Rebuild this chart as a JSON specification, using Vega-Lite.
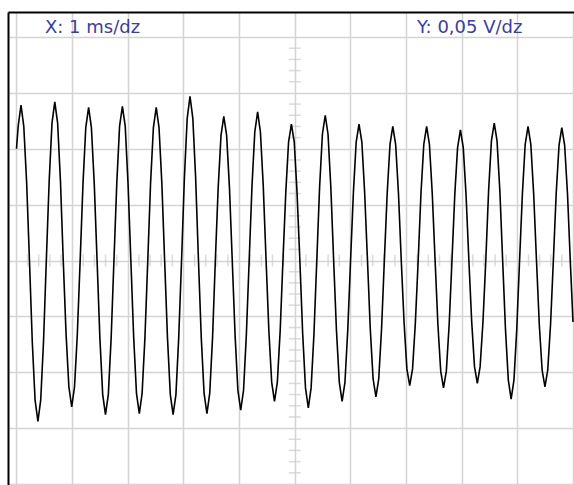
{
  "$schema": "https://vega.github.io/schema/vega-lite/v6.json",
  "autosize": {"type": "fit", "contains": "padding"},
  "width": 574,
  "height": 485,
  "padding": {"left": 8, "top": 12, "right": 0, "bottom": 0},
  "background": "#ffffff",
  "config": {"view": {"stroke": null}},
  "datasets": {
    "trace": [
      {"t":0,"v":0.100},{"t":0.030,"v":0.120},
      {"t":0.081,"v":0.139},{"t":0.131,"v":0.120},{"t":0.182,"v":0.070},{"t":0.233,"v":0},{"t":0.283,"v":-0.072},{"t":0.334,"v":-0.125},{"t":0.385,"v":-0.144},{"t":0.435,"v":-0.125},{"t":0.486,"v":-0.072},{"t":0.536,"v":0},{"t":0.587,"v":0.071},{"t":0.638,"v":0.123},
      {"t":0.688,"v":0.142},{"t":0.739,"v":0.123},{"t":0.790,"v":0.071},{"t":0.840,"v":0},{"t":0.891,"v":-0.066},{"t":0.941,"v":-0.113},{"t":0.992,"v":-0.131},{"t":1.043,"v":-0.113},{"t":1.093,"v":-0.066},{"t":1.144,"v":0},{"t":1.195,"v":0.069},{"t":1.245,"v":0.119},
      {"t":1.296,"v":0.137},{"t":1.346,"v":0.119},{"t":1.397,"v":0.069},{"t":1.448,"v":0},{"t":1.498,"v":-0.069},{"t":1.549,"v":-0.120},{"t":1.599,"v":-0.138},{"t":1.650,"v":-0.120},{"t":1.701,"v":-0.069},{"t":1.751,"v":0},{"t":1.802,"v":0.069},{"t":1.852,"v":0.120},
      {"t":1.903,"v":0.138},{"t":1.954,"v":0.120},{"t":2.004,"v":0.069},{"t":2.055,"v":0},{"t":2.106,"v":-0.069},{"t":2.156,"v":-0.119},{"t":2.207,"v":-0.137},{"t":2.257,"v":-0.119},{"t":2.308,"v":-0.069},{"t":2.359,"v":0},{"t":2.409,"v":0.069},{"t":2.460,"v":0.119},
      {"t":2.511,"v":0.137},{"t":2.561,"v":0.119},{"t":2.612,"v":0.069},{"t":2.662,"v":0},{"t":2.713,"v":-0.069},{"t":2.764,"v":-0.120},{"t":2.814,"v":-0.138},{"t":2.865,"v":-0.120},{"t":2.915,"v":-0.069},{"t":2.966,"v":0},{"t":3.017,"v":0.074},{"t":3.067,"v":0.127},
      {"t":3.118,"v":0.147},{"t":3.169,"v":0.127},{"t":3.219,"v":0.074},{"t":3.270,"v":0},{"t":3.320,"v":-0.069},{"t":3.371,"v":-0.119},{"t":3.422,"v":-0.137},{"t":3.472,"v":-0.119},{"t":3.523,"v":-0.069},{"t":3.573,"v":0},{"t":3.624,"v":0.065},{"t":3.675,"v":0.112},
      {"t":3.725,"v":0.129},{"t":3.776,"v":0.112},{"t":3.827,"v":0.065},{"t":3.877,"v":0},{"t":3.928,"v":-0.067},{"t":3.978,"v":-0.116},{"t":4.029,"v":-0.134},{"t":4.080,"v":-0.116},{"t":4.130,"v":-0.067},{"t":4.181,"v":0},{"t":4.232,"v":0.067},{"t":4.282,"v":0.115},
      {"t":4.333,"v":0.133},{"t":4.383,"v":0.115},{"t":4.434,"v":0.067},{"t":4.485,"v":0},{"t":4.535,"v":-0.063},{"t":4.586,"v":-0.109},{"t":4.636,"v":-0.126},{"t":4.687,"v":-0.109},{"t":4.738,"v":-0.063},{"t":4.788,"v":0},{"t":4.839,"v":0.061},{"t":4.889,"v":0.106},
      {"t":4.940,"v":0.122},{"t":4.991,"v":0.106},{"t":5.041,"v":0.061},{"t":5.092,"v":0},{"t":5.143,"v":-0.066},{"t":5.193,"v":-0.114},{"t":5.244,"v":-0.132},{"t":5.294,"v":-0.114},{"t":5.345,"v":-0.066},{"t":5.396,"v":0},{"t":5.446,"v":0.065},{"t":5.497,"v":0.113},
      {"t":5.548,"v":0.130},{"t":5.598,"v":0.113},{"t":5.649,"v":0.065},{"t":5.699,"v":0},{"t":5.750,"v":-0.063},{"t":5.801,"v":-0.109},{"t":5.851,"v":-0.126},{"t":5.902,"v":-0.109},{"t":5.952,"v":-0.063},{"t":6.003,"v":0},{"t":6.054,"v":0.061},{"t":6.104,"v":0.106},
      {"t":6.155,"v":0.122},{"t":6.206,"v":0.106},{"t":6.256,"v":0.061},{"t":6.307,"v":0},{"t":6.357,"v":-0.061},{"t":6.408,"v":-0.106},{"t":6.459,"v":-0.122},{"t":6.509,"v":-0.106},{"t":6.560,"v":-0.061},{"t":6.610,"v":0},{"t":6.661,"v":0.060},{"t":6.712,"v":0.104},
      {"t":6.762,"v":0.120},{"t":6.813,"v":0.104},{"t":6.864,"v":0.060},{"t":6.914,"v":0},{"t":6.965,"v":-0.056},{"t":7.015,"v":-0.097},{"t":7.066,"v":-0.112},{"t":7.117,"v":-0.097},{"t":7.167,"v":-0.056},{"t":7.218,"v":0},{"t":7.268,"v":0.060},{"t":7.319,"v":0.104},
      {"t":7.370,"v":0.120},{"t":7.420,"v":0.104},{"t":7.471,"v":0.060},{"t":7.522,"v":0},{"t":7.572,"v":-0.057},{"t":7.623,"v":-0.099},{"t":7.673,"v":-0.114},{"t":7.724,"v":-0.099},{"t":7.775,"v":-0.057},{"t":7.825,"v":0},{"t":7.876,"v":0.059},{"t":7.926,"v":0.101},
      {"t":7.977,"v":0.117},{"t":8.028,"v":0.101},{"t":8.078,"v":0.059},{"t":8.129,"v":0},{"t":8.180,"v":-0.055},{"t":8.230,"v":-0.095},{"t":8.281,"v":-0.110},{"t":8.331,"v":-0.095},{"t":8.382,"v":-0.055},{"t":8.433,"v":0},{"t":8.483,"v":0.062},{"t":8.534,"v":0.107},
      {"t":8.585,"v":0.123},{"t":8.635,"v":0.107},{"t":8.686,"v":0.062},{"t":8.736,"v":0},{"t":8.787,"v":-0.062},{"t":8.838,"v":-0.107},{"t":8.888,"v":-0.124},{"t":8.939,"v":-0.107},{"t":8.989,"v":-0.062},{"t":9.040,"v":0},{"t":9.091,"v":0.060},{"t":9.141,"v":0.104},
      {"t":9.192,"v":0.120},{"t":9.242,"v":0.104},{"t":9.293,"v":0.060},{"t":9.344,"v":0},{"t":9.394,"v":-0.057},{"t":9.445,"v":-0.098},{"t":9.496,"v":-0.113},{"t":9.546,"v":-0.098},{"t":9.597,"v":-0.057},{"t":9.647,"v":0},{"t":9.698,"v":0.060},{"t":9.749,"v":0.103},
      {"t":9.799,"v":0.119},{"t":9.850,"v":0.103},{"t":9.901,"v":0.060},{"t":9.951,"v":0},{"t":10.0,"v":-0.055}
    ],
    "vticks": [
      {"t":5,"v":-0.19},{"t":5,"v":-0.18},{"t":5,"v":-0.17},{"t":5,"v":-0.16},{"t":5,"v":-0.14},{"t":5,"v":-0.13},{"t":5,"v":-0.12},{"t":5,"v":-0.11},
      {"t":5,"v":-0.09},{"t":5,"v":-0.08},{"t":5,"v":-0.07},{"t":5,"v":-0.06},{"t":5,"v":-0.04},{"t":5,"v":-0.03},{"t":5,"v":-0.02},{"t":5,"v":-0.01},
      {"t":5,"v":0.01},{"t":5,"v":0.02},{"t":5,"v":0.03},{"t":5,"v":0.04},{"t":5,"v":0.06},{"t":5,"v":0.07},{"t":5,"v":0.08},{"t":5,"v":0.09},
      {"t":5,"v":0.11},{"t":5,"v":0.12},{"t":5,"v":0.13},{"t":5,"v":0.14},{"t":5,"v":0.16},{"t":5,"v":0.17},{"t":5,"v":0.18},{"t":5,"v":0.19}
    ],
    "hticks": [
      {"t":0.2,"v":0},{"t":0.4,"v":0},{"t":0.6,"v":0},{"t":0.8,"v":0},
      {"t":1.2,"v":0},{"t":1.4,"v":0},{"t":1.6,"v":0},{"t":1.8,"v":0},
      {"t":2.2,"v":0},{"t":2.4,"v":0},{"t":2.6,"v":0},{"t":2.8,"v":0},
      {"t":3.2,"v":0},{"t":3.4,"v":0},{"t":3.6,"v":0},{"t":3.8,"v":0},
      {"t":4.2,"v":0},{"t":4.4,"v":0},{"t":4.6,"v":0},{"t":4.8,"v":0},
      {"t":5.2,"v":0},{"t":5.4,"v":0},{"t":5.6,"v":0},{"t":5.8,"v":0},
      {"t":6.2,"v":0},{"t":6.4,"v":0},{"t":6.6,"v":0},{"t":6.8,"v":0},
      {"t":7.2,"v":0},{"t":7.4,"v":0},{"t":7.6,"v":0},{"t":7.8,"v":0},
      {"t":8.2,"v":0},{"t":8.4,"v":0},{"t":8.6,"v":0},{"t":8.8,"v":0},
      {"t":9.2,"v":0},{"t":9.4,"v":0},{"t":9.6,"v":0},{"t":9.8,"v":0}
    ],
    "labels": [
      {"t":0.512,"v":0.2036,"label":"X: 1  ms/dz"},
      {"t":7.197,"v":0.2036,"label":"Y: 0,05  V/dz"}
    ]
  },
  "encoding": {
    "x": {
      "field": "t", "type": "quantitative",
      "scale": {"domain": [-0.1527, 10.018], "nice": false, "zero": false},
      "axis": {"orient": "top", "values": [0,1,2,3,4,5,6,7,8,9,10], "grid": true, "gridColor": "#d4d4d4", "gridWidth": 1.5, "ticks": false, "labels": false, "title": null, "domain": true, "domainColor": "#000000", "domainWidth": 2}
    },
    "y": {
      "field": "v", "type": "quantitative",
      "scale": {"domain": [-0.2009, 0.2224], "nice": false, "zero": false},
      "axis": {"orient": "left", "values": [-0.2,-0.15,-0.1,-0.05,0,0.05,0.1,0.15,0.2], "grid": true, "gridColor": "#d4d4d4", "gridWidth": 1.5, "ticks": false, "labels": false, "title": null, "domain": true, "domainColor": "#000000", "domainWidth": 2}
    }
  },
  "layer": [
    {"data": {"name": "vticks"}, "mark": {"type": "tick", "orient": "horizontal", "size": 12, "thickness": 1.5, "color": "#cccccc"}},
    {"data": {"name": "hticks"}, "mark": {"type": "tick", "orient": "vertical", "size": 12, "thickness": 1.5, "color": "#cccccc"}},
    {"data": {"name": "trace"}, "mark": {"type": "line", "color": "#000000", "strokeWidth": 1.6, "clip": true}},
    {"data": {"name": "labels"}, "mark": {"type": "text", "align": "left", "baseline": "alphabetic", "font": "DejaVu Sans", "fontSize": 18, "color": "#3d3d9e"}, "encoding": {"text": {"field": "label"}}}
  ]
}
